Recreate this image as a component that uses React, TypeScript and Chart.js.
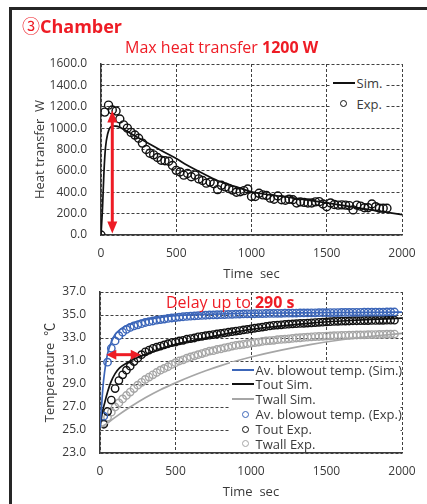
import React, { useEffect, useRef } from "react";
import { Chart, registerables } from "chart.js";

Chart.register(...registerables);

const FONT = "'Open Sans', 'Noto Sans CJK JP', sans-serif";
const RED = "#ee1c25";
const BLUE = "#3c66b9";
const GRAY = "#a6a6a6";
const BLACK = "#111111";
const GRID = "#404040";
const TEXT = "#3a3a3a";

// ---------- Heat transfer chart data ----------
const heatSimTime = [0, 10, 20, 30, 45, 60, 80, 100, 120, 150, 215, 300, 400, 500, 570, 700, 790, 900, 1000, 1250, 1500, 1750, 2000];
const heatSimValue = [0, 250, 600, 820, 950, 1005, 1020, 1018, 1010, 990, 935, 870, 790, 715, 655, 560, 500, 450, 405, 352, 300, 245, 190];

const heatExpTime = [
  0, 25, 50, 75, 100, 125, 150, 175, 200, 225, 250, 275, 300, 325, 350, 375, 400, 425, 450, 475,
  500, 525, 550, 575, 600, 625, 650, 675, 700, 725, 750, 775, 800, 825, 850, 875, 900, 925, 950, 975,
  1000, 1025, 1050, 1075, 1100, 1125, 1150, 1175, 1200, 1225, 1250, 1275, 1300, 1325, 1350, 1375, 1400, 1425, 1450, 1475,
  1500, 1525, 1550, 1575, 1600, 1625, 1650, 1675, 1700, 1725, 1750, 1775, 1800, 1825, 1850, 1875, 1900,
];
const heatExpValue = [
  0, 1150, 1215, 1170, 1160, 1085, 1030, 1000, 960, 935, 905, 860, 800, 765, 750, 725, 700, 695, 690, 650,
  605, 590, 560, 575, 545, 560, 525, 510, 485, 495, 480, 425, 465, 450, 435, 420, 400, 405, 415, 430,
  360, 360, 390, 375, 370, 345, 335, 365, 330, 325, 335, 330, 300, 310, 305, 300, 300, 310, 312, 290,
  265, 300, 285, 280, 282, 280, 275, 235, 280, 270, 255, 255, 290, 265, 250, 250, 250,
];

const heatXTicks = [0, 500, 1000, 1500, 2000];
const heatYTicks = [0, 200, 400, 600, 800, 1000, 1200, 1400, 1600];

// ---------- Temperature chart data ----------
const avSimTime = [0, 10, 20, 30, 45, 60, 80, 100, 130, 180, 250, 300, 400, 500, 700, 1000, 1500, 2000];
const avSimValue = [25.2, 27.0, 28.8, 30.0, 31.3, 32.1, 32.8, 33.3, 33.7, 34.1, 34.45, 34.6, 34.8, 34.95, 35.05, 35.15, 35.2, 35.25];

const toutSimTime = [0, 15, 30, 50, 70, 100, 130, 180, 250, 350, 450, 550, 700, 850, 1000, 1200, 1400, 1600, 1800, 2000];
const toutSimValue = [25.2, 26.5, 27.3, 28.3, 29.1, 29.9, 30.4, 30.85, 31.3, 31.8, 32.25, 32.6, 33.0, 33.4, 33.75, 34.05, 34.3, 34.48, 34.62, 34.72];

const twallSimTime = [0, 50, 100, 200, 300, 400, 500, 600, 700, 800, 900, 1000, 1200, 1400, 1600, 1800, 2000];
const twallSimValue = [25.2, 25.6, 26.1, 27.0, 27.8, 28.5, 29.1, 29.65, 30.15, 30.6, 31.0, 31.35, 31.95, 32.45, 32.85, 33.15, 33.4];

const tempExpTime = [
  25, 50, 75, 100, 125, 150, 175, 200, 225, 250, 275, 300, 325, 350, 375, 400, 425, 450, 475, 500,
  525, 550, 575, 600, 625, 650, 675, 700, 725, 750, 775, 800, 825, 850, 875, 900, 925, 950, 975, 1000,
  1025, 1050, 1075, 1100, 1125, 1150, 1175, 1200, 1225, 1250, 1275, 1300, 1325, 1350, 1375, 1400, 1425, 1450, 1475, 1500,
  1525, 1550, 1575, 1600, 1625, 1650, 1675, 1700, 1725, 1750, 1775, 1800, 1825, 1850, 1875, 1900, 1925, 1950,
];
const avExpValue = [
  26.2, 30.9, 32.1, 32.75, 33.2, 33.5, 33.75, 33.92, 34.05, 34.15, 34.25, 34.35, 34.42, 34.48, 34.55, 34.6, 34.65, 34.7, 34.74, 34.78,
  34.82, 34.85, 34.88, 34.9, 34.92, 34.94, 34.96, 34.98, 35.0, 35.01, 35.02, 35.03, 35.04, 35.05, 35.06, 35.07, 35.08, 35.09, 35.1, 35.1,
  35.11, 35.12, 35.12, 35.13, 35.14, 35.14, 35.15, 35.15, 35.16, 35.16, 35.17, 35.17, 35.18, 35.18, 35.18, 35.19, 35.19, 35.2, 35.2, 35.2,
  35.21, 35.21, 35.21, 35.22, 35.22, 35.22, 35.23, 35.23, 35.23, 35.24, 35.24, 35.24, 35.25, 35.25, 35.25, 35.26, 35.26, 35.26,
];
const toutExpValue = [
  25.5, 26.6, 27.6, 28.6, 29.3, 29.8, 30.2, 30.55, 30.95, 31.25, 31.55, 31.8, 31.95, 32.1, 32.2, 32.3, 32.4, 32.5, 32.6, 32.65,
  32.75, 32.8, 32.9, 32.95, 33.0, 33.1, 33.15, 33.2, 33.25, 33.3, 33.35, 33.4, 33.45, 33.5, 33.55, 33.6, 33.65, 33.7, 33.75, 33.8,
  33.85, 33.9, 33.95, 34.0, 34.05, 34.1, 34.12, 34.15, 34.18, 34.2, 34.22, 34.25, 34.27, 34.28, 34.3, 34.32, 34.34, 34.36, 34.38, 34.4,
  34.42, 34.44, 34.45, 34.46, 34.47, 34.48, 34.5, 34.5, 34.51, 34.52, 34.52, 34.53, 34.53, 34.54, 34.54, 34.55, 34.55, 34.55,
];
const twallExpValue = [
  25.6, 26.1, 26.55, 27.0, 27.35, 27.7, 28.0, 28.3, 28.6, 28.9, 29.15, 29.4, 29.6, 29.8, 30.0, 30.2, 30.35, 30.5, 30.7, 30.85,
  31.0, 31.1, 31.25, 31.35, 31.45, 31.55, 31.65, 31.75, 31.85, 31.9, 32.0, 32.05, 32.15, 32.2, 32.3, 32.35, 32.4, 32.45, 32.5, 32.55,
  32.6, 32.65, 32.7, 32.75, 32.78, 32.8, 32.85, 32.88, 32.9, 32.93, 32.96, 33.0, 33.02, 33.05, 33.07, 33.1, 33.12, 33.13, 33.15, 33.17,
  33.18, 33.2, 33.21, 33.22, 33.23, 33.24, 33.25, 33.26, 33.27, 33.28, 33.29, 33.3, 33.3, 33.31, 33.32, 33.33, 33.33, 33.34,
];

const tempXTicks = [0, 500, 1000, 1500, 2000];
const tempYTicks = [23, 25, 27, 29, 31, 33, 35, 37];

// annotation arrows (data coordinates)
const heatArrow = { x1: 75, y1: 1165, x2: 75, y2: 14 };
const delayArrow = { x1: 42, y1: 31.55, x2: 270, y2: 31.55 };

const pts = (xs: number[], ys: number[]) => xs.map((x, i) => ({ x, y: ys[i] }));

function drawHead(ctx: CanvasRenderingContext2D, x: number, y: number, ang: number, len: number, half: number) {
  const bx = x - Math.cos(ang) * len;
  const by = y - Math.sin(ang) * len;
  const px = -Math.sin(ang) * half;
  const py = Math.cos(ang) * half;
  ctx.beginPath();
  ctx.moveTo(x, y);
  ctx.lineTo(bx + px, by + py);
  ctx.lineTo(bx - px, by - py);
  ctx.closePath();
  ctx.fill();
}

function arrowPlugin(a: { x1: number; y1: number; x2: number; y2: number }, len: number, half: number) {
  return {
    id: "arrow",
    afterDatasetsDraw(chart: any) {
      const { ctx, scales } = chart;
      const x1 = scales.x.getPixelForValue(a.x1);
      const y1 = scales.y.getPixelForValue(a.y1);
      const x2 = scales.x.getPixelForValue(a.x2);
      const y2 = scales.y.getPixelForValue(a.y2);
      const ang = Math.atan2(y2 - y1, x2 - x1);
      ctx.save();
      ctx.strokeStyle = RED;
      ctx.fillStyle = RED;
      ctx.lineWidth = 3;
      ctx.beginPath();
      ctx.moveTo(x1 + Math.cos(ang) * len * 0.8, y1 + Math.sin(ang) * len * 0.8);
      ctx.lineTo(x2 - Math.cos(ang) * len * 0.8, y2 - Math.sin(ang) * len * 0.8);
      ctx.stroke();
      drawHead(ctx, x2, y2, ang, len, half);
      drawHead(ctx, x1, y1, ang + Math.PI, len, half);
      ctx.restore();
    },
  };
}

function axisCommon() {
  return {
    grid: { color: GRID, lineWidth: 1, drawTicks: false },
    border: { display: true, color: "#3a3a3a", width: 1.5, dash: [3, 2] },
  };
}

function simLine(label: string, xs: number[], ys: number[], color: string) {
  return {
    label,
    data: pts(xs, ys),
    borderColor: color,
    borderWidth: 1.7,
    pointRadius: 0,
    showLine: true,
    fill: false,
    cubicInterpolationMode: "monotone" as const,
  };
}

function expPoints(label: string, xs: number[], ys: number[], color: string, r: number) {
  return {
    label,
    data: pts(xs, ys),
    borderColor: color,
    backgroundColor: "rgba(0,0,0,0)",
    pointBorderColor: color,
    pointBackgroundColor: "rgba(0,0,0,0)",
    pointRadius: r,
    pointBorderWidth: 1.4,
    pointStyle: "circle",
    showLine: false,
  };
}

const plainTick = (v: any) => String(v);
const oneDecimal = (v: any) => Number(v).toFixed(1);

function heatConfig(): any {
  return {
    type: "scatter",
    data: {
      datasets: [
        simLine("Sim.", heatSimTime, heatSimValue, BLACK),
        expPoints("Exp.", heatExpTime, heatExpValue, BLACK, 4),
      ],
    },
    options: {
      responsive: false,
      animation: false,
      devicePixelRatio: 1,
      events: [],
      layout: { padding: { left: 0, right: 25, top: 64, bottom: 0 } },
      plugins: { legend: { display: false }, title: { display: false }, tooltip: { enabled: false } },
      scales: {
        x: {
          type: "linear",
          min: 0,
          max: 2000,
          afterBuildTicks: (s: any) => { s.ticks = heatXTicks.map((v) => ({ value: v })); },
          ticks: { color: TEXT, font: { size: 12, family: FONT }, padding: 11, maxRotation: 0, autoSkip: false, callback: plainTick },
          title: { display: true, text: "Time  sec", color: TEXT, font: { size: 13, family: FONT }, padding: { top: 0, bottom: 8 } },
          afterFit: (s: any) => { s.height = 55; },
          ...axisCommon(),
        },
        y: {
          type: "linear",
          min: 0,
          max: 1600,
          afterBuildTicks: (s: any) => { s.ticks = heatYTicks.map((v) => ({ value: v })); },
          ticks: { color: TEXT, font: { size: 12, family: FONT }, padding: 14, callback: oneDecimal },
          title: { display: true, text: "Heat transfer  W", color: TEXT, font: { size: 13, family: FONT }, padding: { top: 32, bottom: 0 } },
          afterFit: (s: any) => { s.width = 101; },
          ...axisCommon(),
        },
      },
    },
    plugins: [arrowPlugin(heatArrow, 12, 5)],
  };
}

function tempConfig(): any {
  return {
    type: "scatter",
    data: {
      datasets: [
        simLine("Av. blowout temp. (Sim.)", avSimTime, avSimValue, BLUE),
        simLine("Tout Sim.", toutSimTime, toutSimValue, BLACK),
        simLine("Twall Sim.", twallSimTime, twallSimValue, GRAY),
        expPoints("Av. blowout temp. (Exp.)", tempExpTime, avExpValue, BLUE, 3.7),
        expPoints("Tout Exp.", tempExpTime, toutExpValue, BLACK, 3.7),
        expPoints("Twall Exp.", tempExpTime, twallExpValue, GRAY, 3.7),
      ],
    },
    options: {
      responsive: false,
      animation: false,
      devicePixelRatio: 1,
      events: [],
      layout: { padding: { left: 0, right: 25, top: 22, bottom: 0 } },
      plugins: { legend: { display: false }, title: { display: false }, tooltip: { enabled: false } },
      scales: {
        x: {
          type: "linear",
          min: 0,
          max: 2000,
          afterBuildTicks: (s: any) => { s.ticks = tempXTicks.map((v) => ({ value: v })); },
          ticks: { color: TEXT, font: { size: 12, family: FONT }, padding: 11, maxRotation: 0, autoSkip: false, callback: plainTick },
          title: { display: true, text: "Time  sec", color: TEXT, font: { size: 13, family: FONT }, padding: { top: 0, bottom: 4 } },
          afterFit: (s: any) => { s.height = 51; },
          ...axisCommon(),
        },
        y: {
          type: "linear",
          min: 23,
          max: 37,
          afterBuildTicks: (s: any) => { s.ticks = tempYTicks.map((v) => ({ value: v })); },
          ticks: { color: TEXT, font: { size: 12, family: FONT }, padding: 14, callback: oneDecimal },
          title: { display: true, text: "Temperature  ℃", color: TEXT, font: { size: 13, family: FONT }, padding: { top: 42, bottom: 0 } },
          afterFit: (s: any) => { s.width = 100; },
          ...axisCommon(),
        },
      },
    },
    plugins: [arrowPlugin(delayArrow, 10, 5)],
  };
}

function ChartCanvas({ top, height, make }: { top: number; height: number; make: () => any }) {
  const ref = useRef<HTMLCanvasElement | null>(null);
  useEffect(() => {
    if (!ref.current) return;
    const chart = new Chart(ref.current, make());
    return () => chart.destroy();
  }, []);
  return (
    <canvas
      ref={ref}
      width={427}
      height={height}
      style={{ position: "absolute", left: 0, top, width: 427, height, display: "block" }}
    />
  );
}

const abs = (left: number, top: number, extra: any = {}) => ({ position: "absolute" as const, left, top, ...extra });

function LegendLine({ x, y, color, label }: { x: number; y: number; color: string; label: string }) {
  return (
    <>
      <div style={abs(x, y - 1, { width: 22, height: 2, background: color })} />
      <div style={abs(x + 23.5, y - 9, { height: 18, lineHeight: "18px", fontSize: 13, color: TEXT, whiteSpace: "nowrap" })}>{label}</div>
    </>
  );
}

function LegendDot({ cx, tx, y, color, label }: { cx: number; tx: number; y: number; color: string; label: string }) {
  return (
    <>
      <div style={abs(cx - 3.5, y - 3.5, { width: 7, height: 7, boxSizing: "border-box", border: `1.3px solid ${color}`, borderRadius: "50%" })} />
      <div style={abs(tx, y - 9, { height: 18, lineHeight: "18px", fontSize: 13, color: TEXT, whiteSpace: "nowrap" })}>{label}</div>
    </>
  );
}

export default function App() {
  return (
    <div style={{ position: "fixed", left: 0, top: 0, width: 427, height: 504, overflow: "hidden", background: "#fff", fontFamily: FONT }}>
      <div style={abs(9, 7, { width: 600, height: 600, borderLeft: "3px solid #262626", borderTop: "3px solid #262626" })} />

      <ChartCanvas top={0} height={290} make={heatConfig} />
      <ChartCanvas top={270} height={234} make={tempConfig} />

      <div style={abs(22, 14, { fontSize: 18, lineHeight: "24px", color: RED, fontWeight: 700, whiteSpace: "nowrap" })}>
        <span style={{ fontWeight: 400 }}>③</span>Chamber
      </div>
      <div style={abs(125, 36, { fontSize: 16, lineHeight: "22px", color: RED, whiteSpace: "nowrap" })}>
        Max heat transfer <b>1200 W</b>
      </div>
      <div style={abs(166, 291, { fontSize: 16, lineHeight: "22px", color: RED, whiteSpace: "nowrap" })}>
        Delay up to <b>290 s</b>
      </div>

      {/* top legend */}
      <div style={abs(330, 73, { width: 56, height: 40, background: "#fff" })} />
      <LegendLine x={333} y={83} color={BLACK} label="Sim." />
      <LegendDot cx={343.5} tx={356.5} y={103.5} color={BLACK} label="Exp." />

      {/* bottom legend */}
      <div style={abs(230, 362, { width: 170, height: 90, background: "#fff" })} />
      <LegendLine x={232} y={369.5} color={BLUE} label="Av. blowout temp. (Sim.)" />
      <LegendLine x={232} y={384} color={BLACK} label="Tout Sim." />
      <LegendLine x={232} y={398.5} color={GRAY} label="Twall Sim." />
      <LegendDot cx={245.5} tx={255.5} y={414} color={BLUE} label="Av. blowout temp. (Exp.)" />
      <LegendDot cx={245.5} tx={255.5} y={429} color={BLACK} label="Tout Exp." />
      <LegendDot cx={245.5} tx={255.5} y={443.5} color={GRAY} label="Twall Exp." />
    </div>
  );
}
